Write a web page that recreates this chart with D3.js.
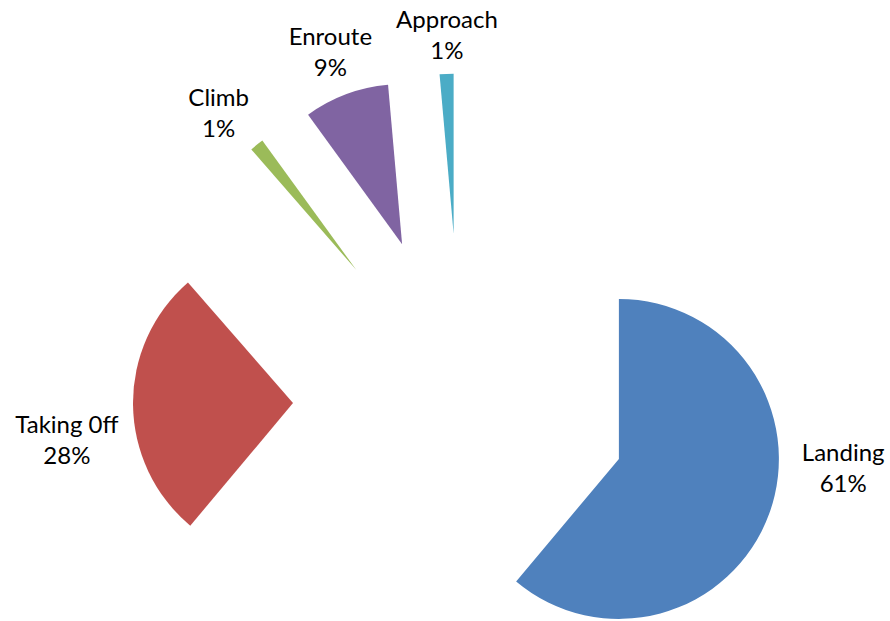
<!DOCTYPE html>
<html>
<head>
<meta charset="utf-8">
<script src="https://cdn.jsdelivr.net/npm/d3@7"></script>
<style>
  html, body { margin: 0; padding: 0; background: #fff; }
  svg { display: block; }
  text { font-family: Lato, "Open Sans", sans-serif; fill: #000; }
</style>
</head>
<body>
<svg id="chart" width="890" height="621"></svg>
<script>
// ---- data ----
const categories = ["Landing", "Taking 0ff", "Climb", "Enroute", "Approach"];
const values = [61.1, 27.5, 1.4, 8.6, 1.4];
const colors = ["#4F81BD", "#C0504D", "#9BBB59", "#8064A2", "#4BACC6"];

// ---- layout (label placement, polar from pie centre) ----
const labelAngleDeg = [99.9, 264.4, 320, 339.5, 357.8];
const labelDist = [388, 396, 377, 373, 367];

const W = 890, H = 621;
const cx = 461, cy = 401.5;
const radius = 160;
const explode = 168;
const fontSize = 24;
const lineGap = 31;

const svg = d3.select("#chart");
const total = d3.sum(values);
const data = categories.map((c, i) => ({ name: c, value: values[i], color: colors[i], i }));

const pie = d3.pie().sort(null).value(d => d.value);
const arc = d3.arc().innerRadius(0).outerRadius(radius);
const arcs = pie(data);

const g = svg.append("g").attr("transform", `translate(${cx},${cy})`);

g.selectAll("path.slice")
  .data(arcs)
  .join("path")
  .attr("class", "slice")
  .attr("d", arc)
  .attr("fill", d => d.data.color)
  .attr("transform", d => {
    const mid = (d.startAngle + d.endAngle) / 2;
    return `translate(${explode * Math.sin(mid)},${-explode * Math.cos(mid)})`;
  });

const fmt = v => Math.round(v / total * 100) + "%";

const labels = g.selectAll("g.label")
  .data(arcs)
  .join("g")
  .attr("class", "label")
  .attr("transform", d => {
    const a = labelAngleDeg[d.data.i] * Math.PI / 180;
    const r = labelDist[d.data.i];
    return `translate(${r * Math.sin(a)},${-r * Math.cos(a) - 1})`;
  });

labels.append("text")
  .attr("text-anchor", "middle")
  .attr("dominant-baseline", "central")
  .attr("y", -lineGap / 2)
  .attr("font-size", fontSize)
  .text(d => d.data.name);

labels.append("text")
  .attr("text-anchor", "middle")
  .attr("dominant-baseline", "central")
  .attr("y", lineGap / 2)
  .attr("font-size", fontSize)
  .text(d => fmt(d.data.value));
</script>
</body>
</html>
